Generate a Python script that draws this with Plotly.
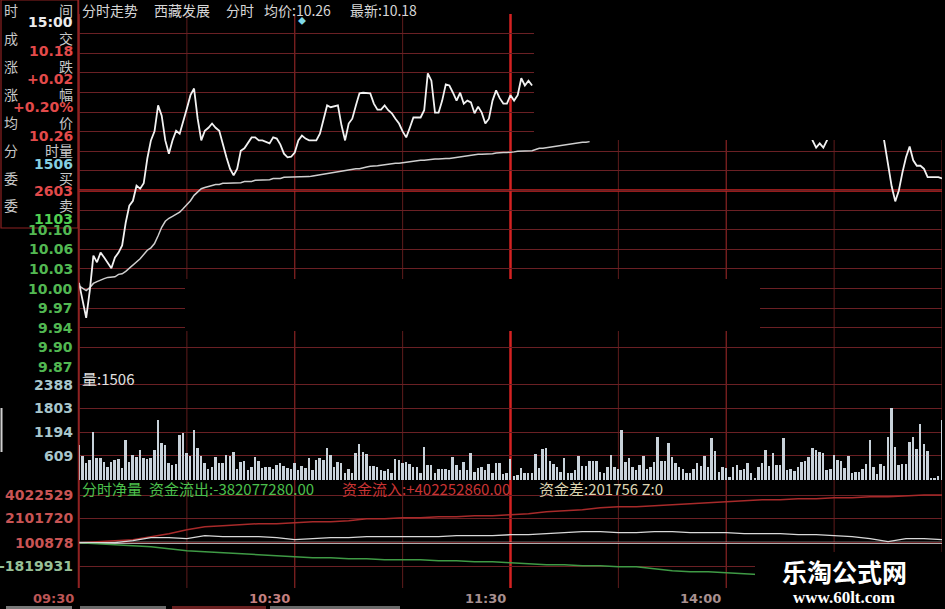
import plotly.graph_objects as go

# ---------------- data ----------------
minutes = list(range(241))  # 0 = 09:30 ... 120 = 11:30/13:00 ... 240 = 15:00

price = [
    10.007, 9.978, 9.949, 9.994, 10.052, 10.041, 10.057, 10.049, 10.039, 10.031,
    10.049, 10.057, 10.069, 10.107, 10.135, 10.143, 10.168, 10.163, 10.172, 10.213,
    10.243, 10.258, 10.301, 10.284, 10.243, 10.221, 10.243, 10.259, 10.254, 10.273,
    10.296, 10.318, 10.329, 10.279, 10.243, 10.259, 10.264, 10.271, 10.264, 10.259,
    10.235, 10.215, 10.196, 10.185, 10.196, 10.226, 10.230, 10.238, 10.248, 10.248,
    10.243, 10.243, 10.240, 10.238, 10.248, 10.246, 10.236, 10.221, 10.215, 10.216,
    10.223, 10.243, 10.251, 10.246, 10.243, 10.243, 10.243, 10.254, 10.279, 10.301,
    10.298, 10.299, 10.301, 10.268, 10.243, 10.271, 10.279, 10.301, 10.321, 10.322,
    10.322, 10.321, 10.304, 10.294, 10.294, 10.301, 10.293, 10.288, 10.279, 10.271,
    10.258, 10.248, 10.264, 10.281, 10.281, 10.281, 10.293, 10.354, 10.342, 10.289,
    10.289, 10.309, 10.336, 10.334, 10.322, 10.309, 10.322, 10.304, 10.309, 10.306,
    10.288, 10.299, 10.289, 10.271, 10.279, 10.309, 10.326, 10.313, 10.304, 10.304,
    10.318, 10.309, 10.318, 10.346, 10.334, 10.342, 10.334,
] + [None] * 76 + [
    10.268, 10.243, 10.231, 10.238, 10.231, 10.243, 10.268,
] + [None] * 13 + [
    10.276, 10.240, 10.201, 10.167, 10.142, 10.160, 10.190, 10.215, 10.233, 10.210,
    10.201, 10.201, 10.196, 10.182, 10.182, 10.182, 10.182, 10.180,
]

avg_price = [
    10.002, 9.998, 9.994, 9.999, 10.006, 10.009, 10.012, 10.014, 10.016, 10.017,
    10.017, 10.021, 10.022, 10.026, 10.031, 10.036, 10.042, 10.047, 10.054, 10.061,
    10.065, 10.072, 10.085, 10.099, 10.109, 10.114, 10.117, 10.120, 10.124, 10.130,
    10.137, 10.143, 10.152, 10.158, 10.163, 10.165, 10.167, 10.168, 10.170, 10.170,
    10.172, 10.172, 10.172, 10.173, 10.173, 10.173, 10.175, 10.175, 10.175, 10.177,
    10.177, 10.177, 10.178, 10.178, 10.180, 10.180, 10.180, 10.182, 10.182, 10.182,
    10.182, 10.183, 10.183, 10.183, 10.183, 10.184, 10.185, 10.187, 10.187, 10.188,
    10.190, 10.191, 10.192, 10.192, 10.193, 10.194, 10.195, 10.196, 10.196, 10.198,
    10.199, 10.200, 10.200, 10.201, 10.202, 10.203, 10.204, 10.205, 10.205, 10.205,
    10.206, 10.206, 10.207, 10.208, 10.209, 10.210, 10.210, 10.211, 10.211, 10.212,
    10.212, 10.213, 10.213, 10.213, 10.214, 10.215, 10.216, 10.216, 10.217, 10.218,
    10.219, 10.220, 10.220, 10.220, 10.221, 10.221, 10.222, 10.223, 10.223, 10.223,
    10.223, 10.224, 10.225, 10.225, 10.226, 10.226, 10.226, 10.228, 10.230, 10.230,
    10.231, 10.232, 10.233, 10.234, 10.235, 10.235, 10.236, 10.237, 10.238, 10.239,
    10.240, 10.240, 10.241,
] + [None] * 98

volume = [
    878, 602, 418, 502, 1213, 544, 544, 460, 335, 460,
    502, 519, 293, 1004, 460, 628, 569, 753, 544, 519,
    544, 753, 1506, 937, 878, 435, 377, 402, 1130, 1188,
    670, 602, 1255, 795, 602, 435, 268, 335, 569, 418,
    435, 628, 602, 711, 268, 460, 485, 251, 318, 586,
    485, 293, 335, 318, 268, 377, 418, 352, 293, 268,
    435, 251,
    352, 293, 544, 251, 502, 544, 502, 795, 628, 335,
    460, 435, 184, 268, 184, 670, 904, 711, 653, 352,
    352, 335, 251, 234, 268, 167, 519, 502, 435, 460,
    402, 335, 335, 184, 837, 377, 377, 167, 268, 268,
    268, 251, 569, 377, 251, 460, 251, 670, 209, 293,
    318, 251, 402, 167, 435, 435, 150, 167,
    519, 100, 126, 293, 167, 167, 167, 653, 293, 770,
    795, 485, 402, 318, 209, 544, 184, 167, 251, 602,
    352, 352, 485, 485, 485, 209, 184, 318, 628, 318,
    268, 1255, 460, 544, 318, 251, 377, 602, 268, 335,
    460, 1071, 485, 485, 937, 569, 435, 318, 268, 167,
    184, 268, 435, 352, 602, 335, 1046, 736, 209, 318,
    293, 84, 318, 377, 251, 268, 435, 167, 50, 335,
    435, 753, 352, 670, 377, 377, 1046, 251, 268, 234,
    335, 460, 485, 569, 795, 753, 711, 686, 251, 268,
    628, 502, 485, 293, 602, 184, 209, 209, 268, 402,
    1004, 318, 150, 402, 352, 1088, 1799, 837, 377, 402,
    402, 962, 1088, 770, 1406, 904, 736, 50, 60, 90,
    1506,
]

flow_minutes = list(range(0, 241, 5))
flow_in = [
    100878, 183000, 265000, 348000, 595000, 841000, 1171000, 1417000, 1500000, 1582000,
    1664000, 1664000, 1747000, 1829000, 1829000, 1911000, 2076000, 2076000, 2158000, 2158000,
    2240000, 2240000, 2323000, 2323000, 2405000, 2487000, 2652000, 2734000, 2816000, 2981000,
    3063000, 3063000, 3146000, 3228000, 3310000, 3392000, 3475000, 3557000, 3639000, 3639000,
    3722000, 3722000, 3804000, 3804000, 3886000, 3886000, 3968000, 4022529, 4022529,
]
flow_net = [
    100878, 100878, 100878, 265000, 512000, 512000, 430000, 677000, 595000, 595000,
    595000, 512000, 348000, 430000, 512000, 512000, 595000, 595000, 595000, 595000,
    595000, 677000, 677000, 677000, 759000, 759000, 841000, 924000, 1006000, 1006000,
    924000, 924000, 1006000, 1006000, 924000, 924000, 924000, 841000, 841000, 841000,
    759000, 759000, 677000, 595000, 430000, 183000, 430000, 430000, 348000,
]
flow_out = [
    100878, 18600, -63700, -146000, -228300, -392900, -557400, -639700, -722000, -804300,
    -886600, -968900, -1051200, -1133400, -1133400, -1215700, -1215700, -1298000, -1298000, -1298000,
    -1380300, -1380300, -1462600, -1462600, -1544900, -1627200, -1709500, -1709500, -1791700, -1791700,
    -1874000, -1874000, -2038600, -2203200, -2285500, -2285500, -2367800, -2450100, -2532300,
]

prev_close = 10.16
price_grid_step = 0.0325
price_tick_vals = [9.8675, 9.90, 9.9325, 9.965, 9.9975, 10.03, 10.0625, 10.095]
price_tick_text = ["9.87", "9.90", "9.94", "9.97", "10.00", "10.03", "10.06", "10.10"]
vol_tick_vals = [609, 1194, 1803, 2388]
flow_tick_vals = [-1819931, 100878, 2101720, 4022529]
time_tick_vals = [0, 60, 120, 180]
time_tick_text = ["09:30", "10:30", "11:30", "14:00"]

# ---------------- layout helpers ----------------
W, H = 945, 609
L, R, T, B = 79, 3, 14, 21
PW, PH = W - L - R, H - T - B


def px(x):
    return (x - L) / PW


def py(y):
    return (H - B - y) / PH


CJK = "Noto Sans CJK SC"
NUM = "DejaVu Sans, Noto Sans CJK SC"
GRID = "#6a2024"

fig = go.Figure()

fig.add_trace(go.Scatter(x=minutes, y=avg_price, mode="lines", xaxis="x", yaxis="y",
                         line=dict(color="#cfcfcf", width=1.5), connectgaps=False, hoverinfo="skip"))
fig.add_trace(go.Scatter(x=minutes, y=price, mode="lines", xaxis="x", yaxis="y",
                         line=dict(color="#f2f2f2", width=1.8), connectgaps=False, hoverinfo="skip"))
fig.add_trace(go.Bar(x=minutes, y=volume, xaxis="x2", yaxis="y2", width=0.55,
                     marker=dict(color="#c8d2da", line=dict(width=0)), hoverinfo="skip"))
fig.add_trace(go.Scatter(x=flow_minutes, y=flow_in, mode="lines", xaxis="x3", yaxis="y3",
                         line=dict(color="#a82a2a", width=1.5), hoverinfo="skip"))
fig.add_trace(go.Scatter(x=flow_minutes[:len(flow_out)], y=flow_out, mode="lines", xaxis="x3", yaxis="y3",
                         line=dict(color="#3f9a45", width=1.5), hoverinfo="skip"))
fig.add_trace(go.Scatter(x=flow_minutes, y=flow_net, mode="lines", xaxis="x3", yaxis="y3",
                         line=dict(color="#d8d8d8", width=1.4), hoverinfo="skip"))

xcommon = dict(range=[0, 240], showgrid=False, zeroline=False, showticklabels=False,
               showline=False, fixedrange=True)
price_grid = [round(9.8675 + price_grid_step * k, 4) for k in range(19)]

fig.update_layout(
    width=W, height=H,
    margin=dict(l=L, r=R, t=T, b=B, pad=0),
    paper_bgcolor="black", plot_bgcolor="black",
    showlegend=False, bargap=0,
    xaxis=dict(anchor="y", **xcommon),
    xaxis2=dict(anchor="y2", **xcommon),
    xaxis3=dict(anchor="y3", **xcommon),
    yaxis=dict(domain=[py(367), 1], range=[9.8675, 10.4525], tickvals=price_grid,
               showticklabels=False, showgrid=True, gridcolor=GRID, gridwidth=1,
               zeroline=False, ticks=""),
    yaxis2=dict(domain=[py(480), py(369)], range=[0, 2786], tickvals=[0] + vol_tick_vals,
                showticklabels=False, showgrid=True, gridcolor=GRID, gridwidth=1,
                zeroline=False, ticks=""),
    yaxis3=dict(domain=[0, py(482)], range=[-3630267, 5092273],
                tickvals=[-3630267] + flow_tick_vals, showticklabels=False, showgrid=True,
                gridcolor=GRID, gridwidth=1, zeroline=False, ticks=""),
)

shapes = []
# vertical grid lines
vstyle = {0: ("#8e2222", 1.5), 30: ("#5e1c1c", 1), 60: ("#8a2424", 1.2), 90: ("#5e1c1c", 1),
          120: ("#d42222", 2.5), 150: ("#5e1c1c", 1), 180: ("#8a2424", 1.2), 210: ("#5e1c1c", 1),
          240: ("#6a2020", 1)}
for m, (c, w) in vstyle.items():
    shapes.append(dict(type="line", xref="x", yref="paper", x0=m, x1=m, y0=0, y1=1,
                       line=dict(color=c, width=w), layer="below"))
# left border up to the top of the page
shapes.append(dict(type="line", xref="paper", yref="paper", x0=px(78.5), x1=px(78.5),
                   y0=py(0), y1=0, line=dict(color="#8e2222", width=1.5)))
# previous close line
shapes.append(dict(type="line", xref="paper", yref="y", x0=0, x1=1, y0=prev_close, y1=prev_close,
                   line=dict(color="#c42424", width=2.5), layer="below"))
# white zero line of flow panel
shapes.append(dict(type="line", xref="paper", yref="y3", x0=0, x1=1, y0=100878, y1=100878,
                   line=dict(color="#e6e6e6", width=2), layer="below"))
# erased areas in the screenshot
shapes.append(dict(type="rect", xref="paper", yref="paper", x0=px(534), x1=px(946), y0=py(140), y1=py(-1),
                   fillcolor="black", line=dict(width=0), layer="above"))
shapes.append(dict(type="rect", xref="paper", yref="paper", x0=px(185), x1=px(760), y0=py(331), y1=py(279),
                   fillcolor="black", line=dict(width=0), layer="above"))
# watermark box
shapes.append(dict(type="rect", xref="paper", yref="paper", x0=px(755), x1=px(946), y0=py(610), y1=py(552),
                   fillcolor="black", line=dict(width=0), layer="above"))
# info box
shapes.append(dict(type="rect", xref="paper", yref="paper", x0=px(1), x1=px(78), y0=py(228), y1=py(0),
                   fillcolor="rgba(0,0,0,0)", line=dict(color="#8e2222", width=1.2)))
# little white marker at left edge
shapes.append(dict(type="line", xref="paper", yref="paper", x0=px(1.5), x1=px(1.5), y0=py(452), y1=py(408),
                   line=dict(color="#d0d0d0", width=2)))
# bottom tab strip
for x0, x1, c in [(6, 72, "#7a7a7a"), (80, 166, "#6a6a6a"), (172, 266, "#6a2020"), (270, 400, "#6a6a6a")]:
    shapes.append(dict(type="rect", xref="paper", yref="paper", x0=px(x0), x1=px(x1), y0=py(609), y1=py(606),
                       fillcolor=c, line=dict(width=0)))
fig.update_layout(shapes=shapes)

ann = []


def text(x, y, s, color, size=15, anchor="left", family=CJK, bold=False, yref="paper"):
    ann.append(dict(x=px(x), y=(py(y) if yref == "paper" else y), xref="paper", yref=yref,
                    text=(f"<b>{s}</b>" if bold else s), showarrow=False, xanchor=anchor,
                    yanchor="middle", font=dict(color=color, size=size, family=family)))


# info panel
LBL = "#c8c8c8"
rows = [("时", "间", 10), ("成", "交", 38), ("涨", "跌", 66), ("涨", "幅", 94),
        ("均", "价", 122), ("分", "时量", 150), ("委", "买", 178), ("委", "卖", 205)]
for a, b, y in rows:
    text(2, y, a, LBL, 14)
    text(75, y, b, LBL, 14, anchor="right")
vals = [("15:00", "#ececec", 22), ("10.18", "#e24a4a", 51), ("+0.02", "#e24a4a", 79),
        ("+0.20%", "#e24a4a", 107), ("10.26", "#e24a4a", 136), ("1506", "#86cfe0", 164),
        ("2603", "#e24a4a", 191), ("1103", "#52d052", 219)]
for s, c, y in vals:
    text(75, y, s, c, 14, anchor="right", family=NUM, bold=True)

# price axis labels
for v, s in zip(price_tick_vals, price_tick_text):
    text(75, v, s, "#52b852", 14, anchor="right", family=NUM, bold=True, yref="y")
# volume axis labels
for v in vol_tick_vals:
    text(75, v, str(v), "#a8c6cc", 14, anchor="right", family=NUM, bold=True, yref="y2")
# flow axis labels
for v, c in zip(flow_tick_vals, ["#98c098", "#c85454", "#c85454", "#c85454"]):
    text(75, v, str(v), c, 14, anchor="right", family=NUM, bold=True, yref="y3")
# time labels
for m, s, c in zip(time_tick_vals, time_tick_text, ["#bc5656", "#c48080", "#a89090", "#a89090"]):
    ann.append(dict(x=m, y=py(598), xref="x3", yref="paper", text=f"<b>{s}</b>", showarrow=False,
                    xanchor="right", yanchor="middle", xshift=-3,
                    font=dict(color=c, size=13, family=NUM)))

# title row
TT = "#d6d6d6"
text(80, 10, "分时走势", TT, 14)
text(152, 10, "西藏发展", TT, 14)
text(224, 10, "分时", TT, 14)
text(262, 10, "均价:10.26", TT, 14)
text(348, 10, "最新:10.18", TT, 14)
text(302, 20, "◆", "#7fd8e8", 8, anchor="center")

# volume title
text(80, 378, "量:1506", "#e0e0e0", 15)

# flow title row
text(80, 488, "分时净量", "#4cc04c", 15)
text(147, 488, "资金流出:-382077280.00", "#4cc04c", 15)
text(340, 488, "资金流入:+402252860.00", "#c83434", 15)
text(537, 488, "资金差:201756 Z:0", "#dcd4b0", 15)

# watermark
text(844, 571, "<b>乐淘公式网</b>", "#ffffff", 25, anchor="center")
text(844, 597, "<b>www.60lt.com</b>", "#ffffff", 17, anchor="center", family="Liberation Serif")

fig.update_layout(annotations=ann)

fig.write_html(
    "out.html",
    config={"displayModeBar": False},
    post_script="document.body.style.margin='0px';document.body.style.padding='0px';"
                "document.body.style.overflow='hidden';",
)
